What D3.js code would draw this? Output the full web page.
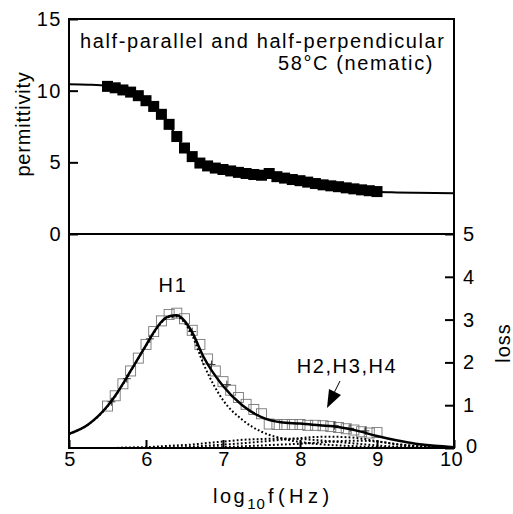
<!DOCTYPE html>
<html>
<head>
<meta charset="utf-8">
<script src="https://cdn.jsdelivr.net/npm/d3@7"></script>
<style>
  body { margin: 0; background: #fff; }
  text { font-family: "Liberation Sans", Arial, sans-serif; fill: #000; }
</style>
</head>
<body>
<div id="chart"></div>
<script>
// measured permittivity (filled squares)
const permLogF = [5.5, 5.6, 5.7, 5.8, 5.9, 6.0, 6.1, 6.2, 6.3, 6.4, 6.5, 6.6, 6.7, 6.8, 6.9, 7.0, 7.1, 7.2,
  7.3, 7.4, 7.5, 7.6, 7.7, 7.8, 7.9, 8.0, 8.1, 8.2, 8.3, 8.4, 8.5, 8.6, 8.7, 8.8, 8.9, 9.0];
const permValues = [10.3, 10.2, 10.05, 9.9, 9.65, 9.3, 8.9, 8.35, 7.65, 6.8, 6.0, 5.4, 4.95, 4.75, 4.6, 4.5, 4.4, 4.3,
  4.22, 4.15, 4.1, 4.22, 4.0, 3.9, 3.8, 3.72, 3.62, 3.52, 3.43, 3.36, 3.3, 3.22, 3.15, 3.08, 3.02, 2.96];

// fitted permittivity
const permFitLogF = [5.0, 5.25, 5.5, 5.75, 6.0, 6.25, 6.5, 6.75, 7.0, 7.5, 8.0, 8.5, 9.0, 9.25, 9.5, 10.0];
const permFitValues = [10.45, 10.42, 10.33, 10.05, 9.35, 8.0, 6.0, 4.9, 4.5, 4.1, 3.7, 3.3, 2.95, 2.9, 2.87, 2.85];

// measured loss (open squares)
const lossLogF = permLogF;
const lossValues = [0.98, 1.22, 1.5, 1.8, 2.1, 2.42, 2.72, 2.97, 3.12, 3.15, 3.02, 2.75, 2.42, 2.08, 1.8, 1.55, 1.35, 1.18,
  1.02, 0.9, 0.8, 0.56, 0.55, 0.55, 0.55, 0.55, 0.53, 0.53, 0.52, 0.5, 0.48, 0.45, 0.42, 0.38, 0.35, 0.36];

// second marker set (+)
const crossLogF = [5.55, 5.75, 6.05, 6.6, 6.85, 7.05, 8.45, 8.65, 8.85];
const crossValues = [1.08, 1.62, 2.55, 2.72, 1.95, 1.48, 0.52, 0.46, 0.4];

// total fitted loss (solid) and components H1..H4 (dotted)
const fitLogF = [5.0, 5.25, 5.5, 5.6, 5.7, 5.8, 5.9, 6.0, 6.1, 6.2, 6.3, 6.4, 6.5, 6.6, 6.75, 7.0, 7.25, 7.5, 7.75,
  8.0, 8.25, 8.5, 8.75, 9.0, 9.25, 9.5, 9.75, 10.0];
const fitLoss = [0.33, 0.55, 0.98, 1.22, 1.5, 1.8, 2.1, 2.4, 2.7, 2.95, 3.08, 3.1, 2.97, 2.7, 2.12, 1.45, 1.0, 0.72, 0.6,
  0.57, 0.53, 0.49, 0.4, 0.28, 0.18, 0.1, 0.05, 0.02];
const h1Loss = [0.33, 0.55, 0.97, 1.21, 1.49, 1.79, 2.09, 2.39, 2.69, 2.93, 3.06, 3.07, 2.93, 2.63, 1.95, 1.12, 0.66, 0.38, 0.23,
  0.14, 0.09, 0.06, 0.04, 0.02, 0.01, 0.01, 0.0, 0.0];
const h2Loss = [0.0, 0.0, 0.0, 0.0, 0.01, 0.01, 0.02, 0.02, 0.03, 0.04, 0.05, 0.06, 0.07, 0.08, 0.11, 0.15, 0.19, 0.21, 0.22,
  0.21, 0.18, 0.14, 0.1, 0.06, 0.03, 0.015, 0.005, 0.0];
const h3Loss = [0.0, 0.0, 0.0, 0.0, 0.0, 0.0, 0.0, 0.0, 0.01, 0.01, 0.01, 0.02, 0.02, 0.03, 0.05, 0.08, 0.11, 0.15, 0.19,
  0.23, 0.26, 0.26, 0.23, 0.16, 0.09, 0.04, 0.015, 0.005];
const h4Loss = [0.0, 0.0, 0.0, 0.0, 0.0, 0.0, 0.0, 0.0, 0.0, 0.0, 0.0, 0.0, 0.0, 0.0, 0.01, 0.02, 0.04, 0.06, 0.08,
  0.1, 0.13, 0.16, 0.17, 0.15, 0.09, 0.05, 0.02, 0.0];

const xTicks = [5, 6, 7, 8, 9, 10];
const permTicks = [0, 5, 10, 15];
const lossTicks = [0, 1, 2, 3, 4, 5];

const width = 513, height = 514;
const svg = d3.select("#chart").append("svg")
  .attr("width", width).attr("height", height);

const x = d3.scaleLinear().domain([5, 10]).range([69, 454]);
const yPerm = d3.scaleLinear().domain([0, 15]).range([234, 19]);
const yLoss = d3.scaleLinear().domain([0, 5]).range([448, 234]);

// frame
svg.append("rect")
  .attr("x", x(5)).attr("y", yPerm(15))
  .attr("width", x(10) - x(5)).attr("height", yLoss(0) - yPerm(15))
  .attr("fill", "none").attr("stroke", "#000").attr("stroke-width", 2);
svg.append("line")
  .attr("x1", x(5)).attr("x2", x(10)).attr("y1", yPerm(0)).attr("y2", yPerm(0))
  .attr("stroke", "#000").attr("stroke-width", 2);

// axes
const fmt = d3.format("d");
const leftAxis = svg.append("g")
  .attr("transform", `translate(${x(5)},0)`)
  .call(d3.axisLeft(yPerm).tickValues(permTicks).tickFormat(fmt).tickSizeInner(-9).tickSizeOuter(0).tickPadding(7));

const rightAxis = svg.append("g")
  .attr("transform", `translate(${x(10)},0)`)
  .call(d3.axisRight(yLoss).tickValues(lossTicks).tickFormat(fmt).tickSizeInner(-9).tickSizeOuter(0).tickPadding(9));

const bottomAxis = svg.append("g")
  .attr("transform", `translate(0,${yLoss(0)})`)
  .call(d3.axisBottom(x).tickValues(xTicks).tickFormat(fmt).tickSizeInner(-8).tickSizeOuter(0).tickPadding(4));

[leftAxis, rightAxis, bottomAxis].forEach((g) => {
  g.select(".domain").remove();
  g.selectAll(".tick line").attr("stroke", "#000").attr("stroke-width", 2);
  g.selectAll(".tick text")
    .style("font-family", "'Liberation Sans', Arial, sans-serif")
    .style("font-size", "20px")
    .style("letter-spacing", "1.5px");
});
// the loss "0" and the x "10" sit in the same corner: keep them apart
rightAxis.selectAll(".tick text").filter((d) => d === 0)
  .attr("x", 12).attr("dy", "0.22em").style("letter-spacing", "0px");
bottomAxis.selectAll(".tick text").attr("dx", "1px");
bottomAxis.selectAll(".tick text").filter((d) => d === 10)
  .attr("dx", "-3px").style("letter-spacing", "0.5px");

// axis titles
svg.append("text")
  .attr("transform", `translate(30,124) rotate(-90)`)
  .attr("text-anchor", "middle")
  .style("font-size", "20px")
  .style("letter-spacing", "0.8px")
  .text("permittivity");

svg.append("text")
  .attr("transform", `translate(510,343) rotate(-90)`)
  .attr("text-anchor", "middle")
  .style("font-size", "20px")
  .style("letter-spacing", "1px")
  .text("loss");

const xLabel = svg.append("text")
  .attr("x", 213).attr("y", 503)
  .style("font-size", "20px")
  .style("letter-spacing", "2.5px");
xLabel.append("tspan").text("log");
xLabel.append("tspan").attr("dy", 6).style("font-size", "15px").style("letter-spacing", "1px").text("10");
xLabel.append("tspan").attr("dy", -6).attr("dx", 2).style("letter-spacing", "4.5px").text("f(Hz)");

// annotations
const ann = { "font-size": "20px", "letter-spacing": "1.6px" };
svg.append("text")
  .attr("x", 80).attr("y", 48)
  .style("font-size", ann["font-size"]).style("letter-spacing", ann["letter-spacing"])
  .text("half-parallel and half-perpendicular");
svg.append("text")
  .attr("x", 434).attr("y", 70)
  .attr("text-anchor", "end")
  .style("font-size", ann["font-size"]).style("letter-spacing", ann["letter-spacing"])
  .text("58°C (nematic)");

svg.append("text")
  .attr("x", 173).attr("y", 292)
  .attr("text-anchor", "middle")
  .style("font-size", ann["font-size"]).style("letter-spacing", ann["letter-spacing"])
  .text("H1");
svg.append("text")
  .attr("x", 347).attr("y", 373)
  .attr("text-anchor", "middle")
  .style("font-size", ann["font-size"]).style("letter-spacing", ann["letter-spacing"])
  .text("H2,H3,H4");

// arrow
svg.append("line")
  .attr("x1", 340).attr("y1", 381).attr("x2", 334).attr("y2", 393)
  .attr("stroke", "#000").attr("stroke-width", 1);
svg.append("path")
  .attr("d", "M327,408 L329,389 L341,395 Z")
  .attr("fill", "#000");

// permittivity fit and data
const permFit = permFitLogF.map((f, i) => [f, permFitValues[i]]);
svg.append("path")
  .datum(permFit)
  .attr("fill", "none").attr("stroke", "#000").attr("stroke-width", 2)
  .attr("d", d3.line().x((d) => x(d[0])).y((d) => yPerm(d[1])).curve(d3.curveMonotoneX));

const sq = 11;
svg.selectAll(".perm-pt")
  .data(permLogF.map((f, i) => [f, permValues[i]]))
  .enter().append("rect")
  .attr("class", "perm-pt")
  .attr("x", (d) => x(d[0]) - sq / 2)
  .attr("y", (d) => yPerm(d[1]) - sq / 2)
  .attr("width", sq).attr("height", sq)
  .attr("fill", "#000");

// loss data
const osq = 10;
svg.selectAll(".loss-pt")
  .data(lossLogF.map((f, i) => [f, lossValues[i]]))
  .enter().append("rect")
  .attr("class", "loss-pt")
  .attr("x", (d) => x(d[0]) - osq / 2)
  .attr("y", (d) => yLoss(d[1]) - osq / 2)
  .attr("width", osq).attr("height", osq)
  .attr("fill", "none").attr("stroke", "#777").attr("stroke-width", 0.9);

svg.selectAll(".cross-pt")
  .data(crossLogF.map((f, i) => [f, crossValues[i]]))
  .enter().append("path")
  .attr("class", "cross-pt")
  .attr("d", (d) => {
    const cx = x(d[0]), cy = yLoss(d[1]);
    return `M${cx - 4},${cy} L${cx + 4},${cy} M${cx},${cy - 4} L${cx},${cy + 4}`;
  })
  .attr("stroke", "#333").attr("stroke-width", 1);

// loss fits
const lossLine = d3.line().x((d) => x(d[0])).y((d) => yLoss(d[1])).curve(d3.curveMonotoneX);
[h1Loss, h2Loss, h3Loss, h4Loss].forEach((series) => {
  svg.append("path")
    .datum(fitLogF.map((f, i) => [f, series[i]]))
    .attr("fill", "none").attr("stroke", "#000").attr("stroke-width", 2)
    .attr("stroke-dasharray", "1.8,2.2")
    .attr("d", lossLine);
});
svg.append("path")
  .datum(fitLogF.map((f, i) => [f, fitLoss[i]]))
  .attr("fill", "none").attr("stroke", "#000").attr("stroke-width", 2.5)
  .attr("d", lossLine);
</script>
</body>
</html>
